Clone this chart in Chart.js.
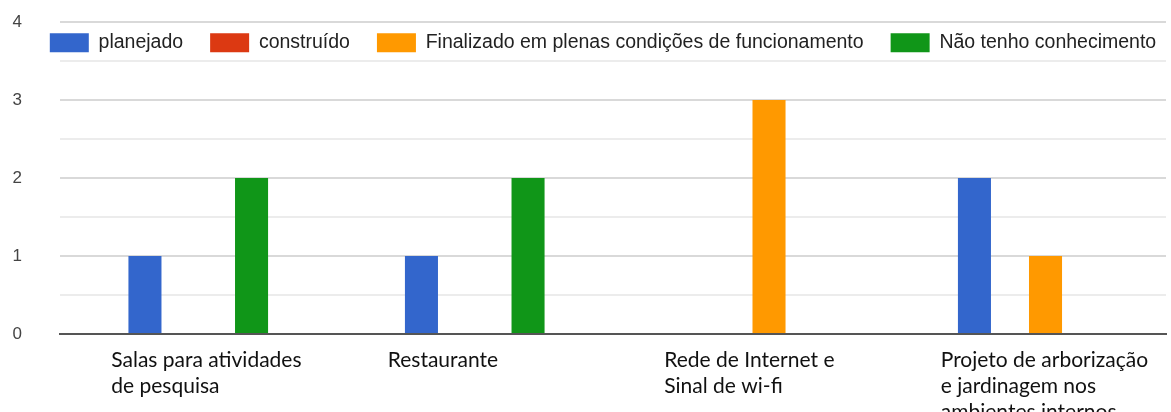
<!DOCTYPE html>
<html>
<head>
<meta charset="utf-8">
<script src="https://cdn.jsdelivr.net/npm/chart.js@4/dist/chart.umd.min.js"></script>
<style>
  html, body { margin: 0; padding: 0; background: #fff; }
  #wrap { width: 1171px; height: 412px; }
</style>
</head>
<body>
<div id="wrap"><canvas id="grafica"></canvas></div>
<script>
// categorias (eixo x)
const categorias = [
  ["Salas para atividades", "de pesquisa"],
  ["Restaurante"],
  ["Rede de Internet e", "Sinal de wi-fi"],
  ["Projeto de arborização", "e jardinagem nos", "ambientes internos"]
];

// séries
const planejado = [1, 1, 0, 2];
const construido = [0, 0, 0, 0];
const finalizado = [0, 0, 3, 1];
const naoConhece = [2, 2, 0, 0];

const nomesSeries = [
  "planejado",
  "construído",
  "Finalizado em plenas condições de funcionamento",
  "Não tenho conhecimento"
];
const cores = ["#3366cc", "#dc3912", "#ff9900", "#109618"];

// rótulos do eixo y
const rotulosY = ["0", "1", "2", "3", "4"];

const series = [planejado, construido, finalizado, naoConhece];

// a legenda fica por cima da área do gráfico, como no original
const legendaPorCima = {
  id: "legendaPorCima",
  afterLayout(chart) {
    const lg = chart.legend;
    lg.top += 4;
    lg.bottom = lg.top + 70;
    lg.left += 20;
    lg.right += 20;
  }
};

new Chart(document.getElementById("grafica"), {
  type: "bar",
  data: {
    labels: categorias,
    datasets: series.map((valores, i) => ({
      label: nomesSeries[i],
      data: valores,
      backgroundColor: cores[i],
      borderWidth: 0,
      barPercentage: 0.93,
      categoryPercentage: 0.514
    }))
  },
  plugins: [legendaPorCima],
  options: {
    responsive: true,
    maintainAspectRatio: false,
    animation: false,
    layout: { padding: { top: 2, right: 5, left: 0, bottom: 0 } },
    plugins: {
      legend: {
        position: "top",
        align: "center",
        maxHeight: 20,
        labels: {
          boxWidth: 39,
          boxHeight: 19,
          padding: 27,
          color: "#222",
          font: { family: "Arial, 'Liberation Sans'", size: 19.5 }
        }
      },
      tooltip: { enabled: false }
    },
    scales: {
      x: {
        grid: { display: false, drawTicks: false },
        border: { color: "#555", width: 2 },
        ticks: {
          align: "start",
          labelOffset: -87,
          padding: 13,
          maxRotation: 0,
          autoSkip: false,
          color: "#111",
          font: { family: "Lato", size: 21, lineHeight: "26px" }
        },
        afterFit: (escala) => {
          escala.height = 78;
          escala.paddingLeft = 0;
          escala.paddingRight = 0;
        }
      },
      y: {
        min: 0,
        max: 4,
        border: { display: false },
        grid: {
          drawTicks: false,
          color: (ctx) => {
            const v = ctx.tick.value;
            if (v === 0) return "#555";
            return Number.isInteger(v) ? "#d9d9d9" : "#ececec";
          },
          lineWidth: 2
        },
        ticks: {
          stepSize: 0.5,
          padding: 38,
          color: "#444",
          font: { family: "Arial, 'Liberation Sans'", size: 17 },
          callback: (v) => (Number.isInteger(v) ? rotulosY[v] : "")
        },
        afterFit: (escala) => {
          escala.width = 60;
          escala.paddingTop = 0;
          escala.paddingBottom = 0;
        }
      }
    }
  }
});
</script>
</body>
</html>
